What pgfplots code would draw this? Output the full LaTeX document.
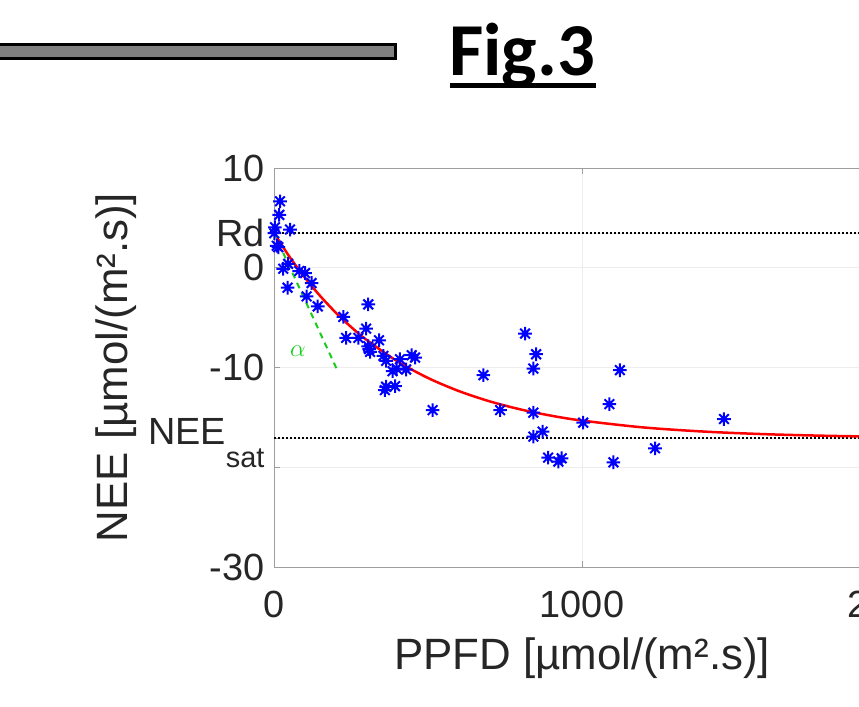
\documentclass[border=0pt]{standalone}
\usepackage{pgfplots}
\pgfplotsset{compat=1.18}
\usepackage{fontspec}
\setmainfont{Liberation Sans}
\newfontfamily\titlefont{Carlito}

\definecolor{matblue}{rgb}{0,0,1}
\definecolor{matred}{rgb}{1,0,0}
\definecolor{matgreen}{rgb}{0.1,0.8,0.1}
\definecolor{axgray}{rgb}{0.62,0.62,0.62}

% MATLAB-style '*' marker: a plus and a cross
\pgfdeclareplotmark{matstar}{%
  \pgfpathmoveto{\pgfqpoint{-\pgfplotmarksize}{0pt}}%
  \pgfpathlineto{\pgfqpoint{\pgfplotmarksize}{0pt}}%
  \pgfpathmoveto{\pgfqpoint{0pt}{-\pgfplotmarksize}}%
  \pgfpathlineto{\pgfqpoint{0pt}{\pgfplotmarksize}}%
  \pgfpathmoveto{\pgfqpoint{-0.71\pgfplotmarksize}{-0.71\pgfplotmarksize}}%
  \pgfpathlineto{\pgfqpoint{0.71\pgfplotmarksize}{0.71\pgfplotmarksize}}%
  \pgfpathmoveto{\pgfqpoint{-0.71\pgfplotmarksize}{0.71\pgfplotmarksize}}%
  \pgfpathlineto{\pgfqpoint{0.71\pgfplotmarksize}{-0.71\pgfplotmarksize}}%
  \pgfusepathqstroke}

\begin{document}
\begin{tikzpicture}
    % header: grey bar and title
    \draw[line width=3bp, fill=gray] (-5bp,-44.5bp) rectangle (395.5bp,-58.5bp);
    \node[anchor=base west, inner sep=0pt] at (449bp,-75bp)
        {\titlefont\bfseries\fontsize{75}{75}\selectfont Fig.3};
    \fill (450bp,-83bp) rectangle (596bp,-87.5bp);

    \begin{axis}[
            at={(274bp,-567bp)}, anchor=south west,
            scale only axis,
            width=616bp, height=399bp,
            xmin=0, xmax=2000,
            ymin=-30, ymax=10,
            axis line style={axgray, line width=1bp},
            tick style={axgray, line width=1bp},
            major tick length=6bp,
            tick align=inside,
            xtick={0,1000,2000},
            xticklabels={0,1000,2000},
            ytick={-30,-20,-17.1,-10,0,3.47,10},
            yticklabels={-30,{},{NEE\raisebox{-23bp}[0pt][13.7bp]{\fontsize{29}{29}\selectfont sat}},-10,0,Rd,10},
            ticklabel style={font=\fontsize{38}{38}\selectfont, text=black!85},
            yticklabel style={xshift=-6bp},
            xticklabel style={yshift=-21bp},
            grid=major,
            grid style={black!7, line width=1bp},
            xlabel={PPFD [µmol/(m².s)]},
            ylabel={NEE [µmol/(m².s)]},
            label style={font=\fontsize{44}{44}\selectfont, text=black!85},
            xlabel style={at={(axis description cs:0.5,-0.258)}, anchor=base},
            ylabel style={at={(axis description cs:-0.2565,0.5)}, anchor=center},
        ]
        % Rd and NEE_sat reference levels
        \addplot[black, line width=1.8bp, dash pattern=on 1.8bp off 2.2bp]
            coordinates {(0,3.47) (2000,3.47)};
        \addplot[black, line width=1.8bp, dash pattern=on 1.8bp off 2.2bp]
            coordinates {(0,-17.1) (2000,-17.1)};

        % measurements
        \addplot[only marks, mark=matstar, mark size=6.8bp, matblue,
                 mark options={line width=2bp}]
            coordinates {
                (19.5,6.66) (17,5.3) (3,4.06) (52,3.83) (1,3.46)
                (9,2.2) (14,2.06) (46,0.4) (30,-0.1) (82,-0.33)
                (101,-0.53) (122,-1.53) (44,-2.0) (106,-2.87) (142,-3.87)
                (306,-3.67) (225,-4.93) (299,-6.1) (234,-7.03) (274,-7.03)
                (341,-7.27) (306,-7.87) (309,-8.15) (312,-8.43) (355,-8.83)
                (364,-9.33) (409,-9.17) (447,-8.77) (458,-9.0) (385,-10.37)
                (398,-10.1) (429,-10.2) (364,-11.93) (360,-12.27) (393,-11.87)
                (515,-14.27) (815,-6.6) (851,-8.67) (842,-10.1) (680,-10.77)
                (1123,-10.27) (734,-14.27) (842,-14.53) (1004,-15.53) (1089,-13.67)
                (842,-16.93) (872,-16.43) (890,-19.03) (923,-19.43) (934,-19.1)
                (1102,-19.5) (1237,-18.1) (1461,-15.17)
            };

        % fitted light response curve
        \addplot[matred, line width=2.5bp, smooth]
            coordinates {
                (5,3.25) (50,1.12) (100,-0.98) (150,-2.83) (200,-4.48)
                (250,-5.93) (300,-7.22) (400,-9.37) (500,-11.05) (600,-12.36)
                (700,-13.39) (800,-14.20) (900,-14.83) (1000,-15.32) (1200,-16.01)
                (1400,-16.43) (1600,-16.69) (1800,-16.85) (2000,-16.95)
            };

        % initial slope alpha
        \addplot[matgreen, line width=2bp, dash pattern=on 6bp off 5bp]
            coordinates {(0,3.5) (203,-10.1)};
        \node[text=matgreen, font=\fontsize{30}{30}\selectfont] at (axis cs:78,-8.4) {$\alpha$};
    \end{axis}

    \pgfresetboundingbox
    \path[use as bounding box] (0,0) rectangle (859bp,-707bp);
\end{tikzpicture}
\end{document}
